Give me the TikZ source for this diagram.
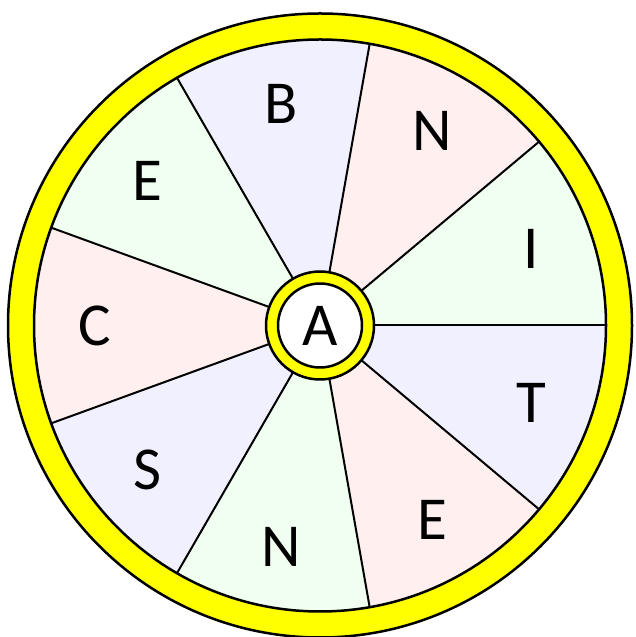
\documentclass[tikz,border=0pt]{standalone}
\usepackage{fontspec}
\setmainfont{Carlito}
\usetikzlibrary{calc}
\definecolor{lav}{HTML}{F0F0FF}
\definecolor{pnk}{HTML}{FFEFEF}
\definecolor{grn}{HTML}{F0FFF0}
\definecolor{ylw}{HTML}{FFFF00}
\begin{document}
\begin{tikzpicture}[x=1pt,y=1pt,
  ring/.style={fill=ylw,draw=black,line width=2.5pt},
  sector/.style={draw=black,line width=2pt},
  letter/.style={font=\fontsize{61}{61}\selectfont,inner sep=0pt}]
\useasboundingbox (0,0) rectangle (636,637);
\coordinate (c) at (320,311.5);
% outer yellow ring
\fill[ylw,draw=black,line width=2.5pt] (c) circle (312);
\fill[white] (c) circle (286);
% sectors
\foreach \i/\col in {0/grn,1/pnk,2/lav,3/grn,4/pnk,5/lav,6/grn,7/pnk,8/lav}{
  \pgfmathsetmacro{\a}{40*\i}
  \pgfmathsetmacro{\b}{40*\i+40}
  \fill[\col] (c) -- ++(\a:286) arc[start angle=\a,end angle=\b,radius=286] -- cycle;
}
\foreach \i in {0,...,8}{
  \draw[sector] (c) -- ++(40*\i:286) coordinate (s\i);
}
\draw[black,line width=2.5pt] (c) circle (286);
% letters
\foreach \t/\ang [count=\k] in {I/20,N/60,B/100,E/140,C/180,S/220,N/260,E/300,T/340}{
  \node[letter] (l\k) at ($(c)+(\ang:225)$) {\t};
}
% hub
\draw[ring] (c) circle (54);
\draw[fill=white,draw=black,line width=2.5pt] (c) circle (42);
\node[letter] (hub) at (c) {A};
\end{tikzpicture}
\end{document}
